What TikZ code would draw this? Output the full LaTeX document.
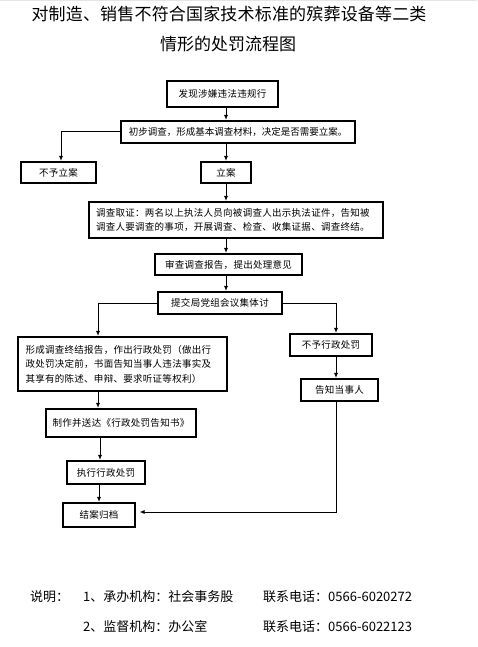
\documentclass[tikz,border=0pt]{standalone}
\usepackage{fontspec}
\setmainfont{Noto Sans CJK SC}
\newfontfamily\bxfont[LetterSpace=3]{Noto Sans CJK SC}
\usetikzlibrary{arrows.meta}
\begin{document}
\begin{tikzpicture}[x=1pt,y=-1pt,
  box/.style={draw=black,line width=1.1pt,inner sep=0pt,align=center,
    font=\bxfont\fontsize{9.5}{14.5}\selectfont},
  arr/.style={line width=0.9pt,-{Latex[length=5pt,width=4pt]},shorten >=0.5pt},
  foot/.style={anchor=west,inner sep=0pt,font=\fontsize{13}{15}\selectfont}]
\useasboundingbox (0,0) rectangle (477,647);
\fill[white] (0,0) rectangle (477,647);
\fill[gray!20] (0,0) rectangle (477,1.5);
% title
\node[inner sep=0pt,font=\fontsize{17}{20}\selectfont] (t1) at (229,14) {\makebox[395pt][s]{对\hfil 制\hfil 造\hfil 、\hfil 销\hfil 售\hfil 不\hfil 符\hfil 合\hfil 国\hfil 家\hfil 技\hfil 术\hfil 标\hfil 准\hfil 的\hfil 殡\hfil 葬\hfil 设\hfil 备\hfil 等\hfil 二\hfil 类}};
\node[inner sep=0pt,font=\fontsize{17}{20}\selectfont] (t2) at (228,44) {情形的处罚流程图};
% guide coordinates
\coordinate (cx) at (226,0);
\coordinate (lx) at (61,0);
\coordinate (bx) at (98,0);
\coordinate (rx) at (336,0);
% boxes
\node[box,minimum width=111pt,minimum height=26pt] (n1) at (222.5,94) {发现涉嫌违法违规行};
\node[box,minimum width=234pt,minimum height=22pt,font=\fontsize{9.5}{14.5}\selectfont] (n2) at (238,132) {初步调查，形成基本调查材料，决定是否需要立案。};
\node[box,minimum width=75pt,minimum height=21pt] (n3) at (58.5,172.5) {不予立案};
\node[box,minimum width=50pt,minimum height=21pt] (n4) at (226,172.5) {立案};
\node[box,minimum width=294pt,minimum height=36pt,text width=280pt,align=left] (n5) at (236,220) {调查取证：两名以上执法人员向被调查人出示执法证件，告知被\\调查人要调查的事项，开展调查、检查、收集证据、调查终结。};
\node[box,minimum width=147pt,minimum height=21pt] (n6) at (228.5,264.5) {审查调查报告，提出处理意见};
\node[box,minimum width=124pt,minimum height=22pt] (n7) at (220,303) {提交局党组会议集体讨};
\node[box,minimum width=209pt,minimum height=54pt,text width=194pt,align=left] (n8) at (122.5,364) {形成调查终结报告，作出行政处罚（做出行\\政处罚决定前，书面告知当事人违法事实及\\其享有的陈述、申辩、要求听证等权利）};
\node[box,minimum width=82pt,minimum height=22pt] (n9) at (331,345) {不予行政处罚};
\node[box,minimum width=77pt,minimum height=22pt] (n10) at (339.5,390) {告知当事人};
\node[box,minimum width=150pt,minimum height=28pt] (n11) at (121,423) {制作并送达《行政处罚告知书》};
\node[box,minimum width=78pt,minimum height=23pt] (n12) at (106,472.5) {执行行政处罚};
\node[box,minimum width=72pt,minimum height=24pt] (n13) at (99,515) {结案归档};
% connectors
\draw[arr] (n1.south -| cx) -- (n2.north -| cx);
\draw[arr] (n2.west |- 0,131) -| (n3.north -| lx);
\draw[arr] (n2.south -| cx) -- (n4.north -| cx);
\draw[arr] (n4.south -| cx) -- (n5.north -| cx);
\draw[arr] (n5.south -| cx) -- (n6.north -| cx);
\draw[arr] (n6.south -| cx) -- (n7.north -| cx);
\draw[arr] (n7.west) -| (n8.north -| bx);
\draw[arr] (n7.east) -| (n9.north -| rx);
\draw[arr] (n9.south -| rx) -- (n10.north -| rx);
\draw[arr,shorten >=4pt] (n10.south -| rx) |- (n13.east |- 0,512);
\draw[arr] (n8.south -| bx) -- (n11.north -| bx);
\draw[arr] (n11.south -| 100,0) -- (n12.north -| 100,0);
\draw[arr] (n12.south -| 99,0) -- (n13.north -| 99,0);
% footer
\node[foot] (f0) at (30,597) {说明：};
\node[foot] (f1) at (83,597) {1、承办机构：社会事务股};
\node[foot] (f2) at (263,597) {联系电话：0566-6020272};
\node[foot] (f3) at (83,627) {2、监督机构：办公室};
\node[foot] (f4) at (263,627) {联系电话：0566-6022123};
\end{tikzpicture}
\end{document}
